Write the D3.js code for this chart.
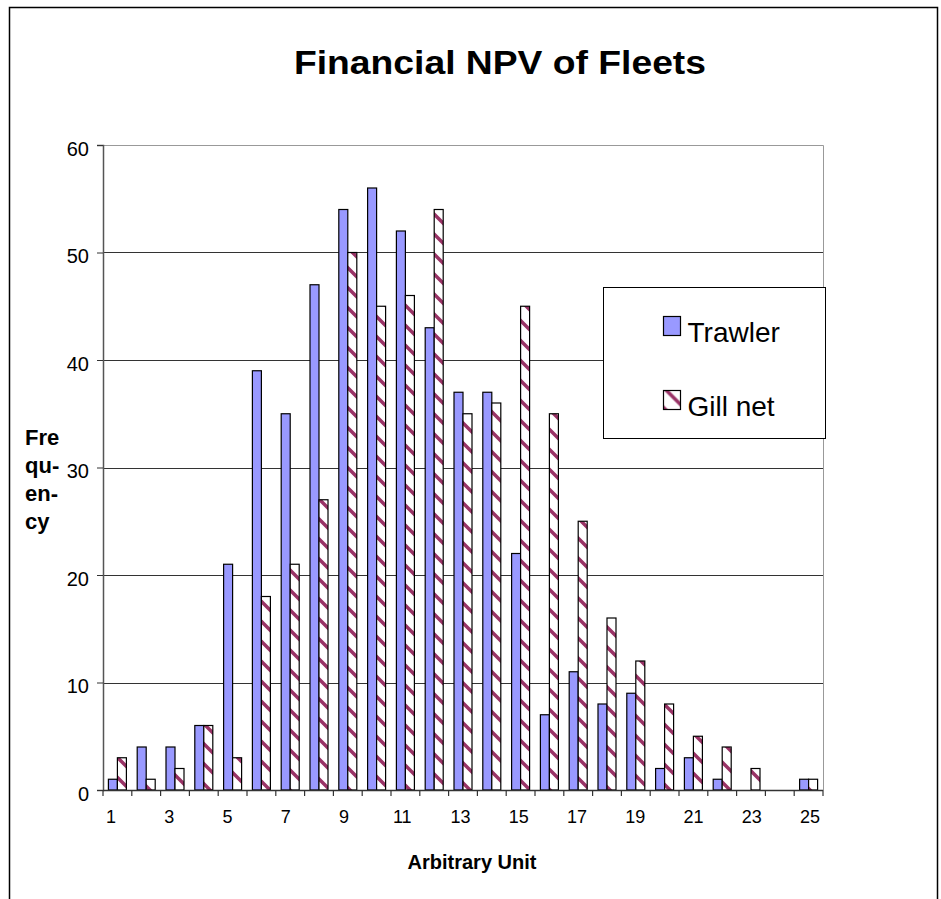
<!DOCTYPE html>
<html>
<head>
<meta charset="utf-8">
<script src="https://cdn.jsdelivr.net/npm/d3@7"></script>
<style>
  body { margin: 0; background: #fff; }
  text { font-family: "Liberation Sans", Arial, sans-serif; }
</style>
</head>
<body>
<div id="chart"></div>
<script>
// categories on the x axis (arbitrary unit)
var categories = [1,2,3,4,5,6,7,8,9,10,11,12,13,14,15,16,17,18,19,20,21,22,23,24,25]
// frequency per category
var trawler = [1,4,4,6,21,39,35,47,54,56,52,43,37,37,22,7,11,8,9,2,3,1,0,0,1]
var gillNet = [3,1,2,6,3,18,21,27,50,45,46,54,35,36,45,35,25,16,12,8,5,4,2,0,1]
var seriesNames = ["Trawler", "Gill net"]
var yTicks = [0,10,20,30,40,50,60]
var xLabels = [1,3,5,7,9,11,13,15,17,19,21,23,25]

var width = 941, height = 899
var plot = {left: 103, right: 823, top: 145, bottom: 790}

var svg = d3.select("#chart").append("svg")
  .attr("width", width).attr("height", height)

// gill net fill: white with maroon diagonal stripes
var defs = svg.append("defs")
var pat = defs.append("pattern")
  .attr("id", "gillPattern")
  .attr("patternUnits", "userSpaceOnUse")
  .attr("width", 20).attr("height", 20)
pat.append("rect").attr("width", 20).attr("height", 20).attr("fill", "#fff")
pat.append("path")
  .attr("d", "M-5,-5L25,25M-25,-5L5,25M15,-5L45,25")
  .attr("stroke", "#993366")
  .attr("stroke-width", 3.5)

// outer chart border (bottom is cut off by the window)
svg.append("rect")
  .attr("x", 9.5).attr("y", 7.5)
  .attr("width", 928).attr("height", 920)
  .attr("fill", "none").attr("stroke", "#000").attr("stroke-width", 1.5)

var x = d3.scaleBand()
  .domain(categories)
  .range([plot.left, plot.right])
  .paddingInner(0).paddingOuter(0)

var xSub = d3.scaleBand()
  .domain(seriesNames)
  .range([0, x.bandwidth()])
  .paddingInner(0).paddingOuter(0.6)

var y = d3.scaleLinear()
  .domain([0, 60])
  .range([plot.bottom, plot.top])

// horizontal gridlines
svg.append("g")
  .selectAll("line")
  .data(yTicks.filter(function(d){ return d > 0 && d < 60 }))
  .enter().append("line")
  .attr("x1", plot.left).attr("x2", plot.right)
  .attr("y1", function(d){ return Math.round(y(d)) + 0.5 })
  .attr("y2", function(d){ return Math.round(y(d)) + 0.5 })
  .attr("stroke", "#333").attr("stroke-width", 1)

// plot area border top + right
svg.append("path")
  .attr("d", "M" + plot.left + "," + (plot.top + 0.5) + "H" + (plot.right + 0.5) + "V" + plot.bottom)
  .attr("fill", "none").attr("stroke", "#999").attr("stroke-width", 1)

// build rows for bars
var rows = []
categories.forEach(function(c, i){
  rows.push({cat: c, series: "Trawler", value: trawler[i]})
  rows.push({cat: c, series: "Gill net", value: gillNet[i]})
})

svg.append("g")
  .selectAll("rect")
  .data(rows.filter(function(d){ return d.value > 0 }))
  .enter().append("rect")
  .attr("x", function(d){ return x(d.cat) + xSub(d.series) })
  .attr("y", function(d){ return y(d.value) })
  .attr("width", xSub.bandwidth())
  .attr("height", function(d){ return y(0) - y(d.value) })
  .attr("fill", function(d){ return d.series == "Trawler" ? "#9999FF" : "url(#gillPattern)" })
  .attr("stroke", "#000")
  .attr("stroke-width", 1.2)

// y axis
var yAxis = svg.append("g")
  .attr("transform", "translate(" + plot.left + ",0)")
  .call(d3.axisLeft(y).tickValues(yTicks).tickSize(6).tickPadding(8))
yAxis.select(".domain").attr("stroke", "#555").attr("stroke-width", 1.5)
yAxis.selectAll(".tick line").attr("stroke", "#333")
yAxis.selectAll(".tick text")
  .attr("font-size", 20).attr("fill", "#000")
  .attr("dy", "0.5em")
  .style("font-family", "'Liberation Sans', Arial, sans-serif")

// x axis line and ticks at category boundaries
var xAxisG = svg.append("g")
svg.append("line")
  .attr("x1", plot.left).attr("x2", plot.right)
  .attr("y1", plot.bottom + 0.5).attr("y2", plot.bottom + 0.5)
  .attr("stroke", "#333").attr("stroke-width", 1.5)
xAxisG.selectAll("line")
  .data(categories.concat([null]))
  .enter().append("line")
  .attr("x1", function(d, i){ return i < categories.length ? x(d) : plot.right })
  .attr("x2", function(d, i){ return i < categories.length ? x(d) : plot.right })
  .attr("y1", plot.bottom).attr("y2", plot.bottom + 6)
  .attr("stroke", "#333").attr("stroke-width", 1.2)

// x tick labels (every second category)
var labelX = d3.scalePoint().domain(categories).range([111, 810])
svg.append("g")
  .selectAll("text")
  .data(xLabels)
  .enter().append("text")
  .attr("x", function(d){ return labelX(d) })
  .attr("y", 823)
  .attr("text-anchor", "middle")
  .attr("font-size", 18)
  .text(function(d){ return d })

// title
svg.append("text")
  .attr("x", 500).attr("y", 74)
  .attr("text-anchor", "middle")
  .attr("font-size", 33).attr("font-weight", "bold")
  .attr("textLength", 412).attr("lengthAdjust", "spacingAndGlyphs")
  .text("Financial NPV of Fleets")

// x axis title
svg.append("text")
  .attr("x", 472).attr("y", 869)
  .attr("text-anchor", "middle")
  .attr("font-size", 20).attr("font-weight", "bold")
  .text("Arbitrary Unit")

// y axis title, broken over lines
var yTitle = ["Fre", "qu-", "en-", "cy"]
svg.append("g")
  .selectAll("text")
  .data(yTitle)
  .enter().append("text")
  .attr("x", 25)
  .attr("y", function(d, i){ return 445 + i * 28 })
  .attr("font-size", 22).attr("font-weight", "bold")
  .text(function(d){ return d })

// legend
var legend = svg.append("g").attr("transform", "translate(603.5,287.5)")
legend.append("rect")
  .attr("width", 222).attr("height", 151)
  .attr("fill", "#fff").attr("stroke", "#000").attr("stroke-width", 1)
legend.selectAll("rect.sw")
  .data(seriesNames)
  .enter().append("rect")
  .attr("class", "sw")
  .attr("x", 60).attr("y", function(d, i){ return 29 + i * 74 })
  .attr("width", 17).attr("height", 19)
  .attr("fill", function(d){ return d == "Trawler" ? "#9999FF" : "url(#gillPattern)" })
  .attr("stroke", "#000").attr("stroke-width", 1.2)
legend.selectAll("text")
  .data(seriesNames)
  .enter().append("text")
  .attr("x", 84).attr("y", function(d, i){ return 54 + i * 74 })
  .attr("font-size", 28)
  .text(function(d){ return d })
</script>
</body>
</html>
